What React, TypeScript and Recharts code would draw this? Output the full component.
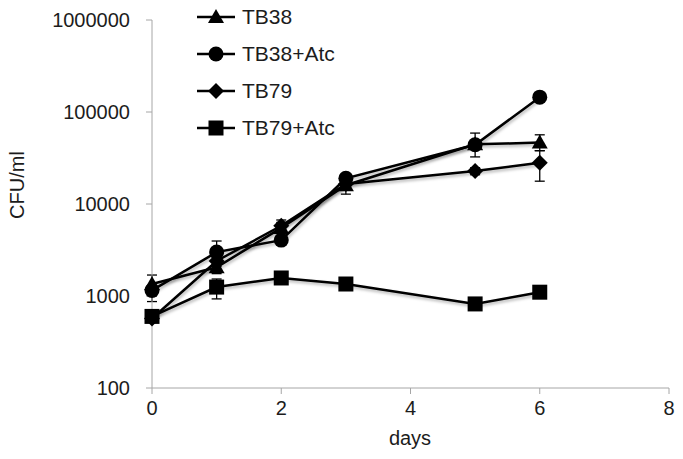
import { LineChart, Line, XAxis, YAxis, ErrorBar } from 'recharts'

const days = [0, 1, 2, 3, 5, 6]
const tb38 = [1350, 2050, 5500, 16000, 44500, 46500]
const tb38Atc = [1150, 3000, 4050, 19000, 44000, 145000]
const tb79 = [570, 2400, 5800, 16500, 22800, 28000]
const tb79Atc = [600, 1250, 1570, 1350, 820, 1100]

// [minus, plus]
const tb38Err = [[480, 340], [300, 300], [600, 1200], [3200, 3000], [12000, 14500], [8500, 10000]]
const tb38AtcErr = [[150, 150], [800, 960], [400, 400], [1500, 1500], [3000, 3000], [5000, 5000]]
const tb79Err = [[50, 50], [300, 300], [500, 500], [1500, 1500], [2000, 2000], [10300, 10000]]
const tb79AtcErr = [[60, 60], [320, 280], [150, 150], [100, 100], [80, 80], [100, 100]]

const xTicks = [0, 2, 4, 6, 8]
const yTicks = [100, 1000, 10000, 100000, 1000000]

const series = [
  { key: 'tb38', name: 'TB38', shape: 'triangle' },
  { key: 'tb38Atc', name: 'TB38+Atc', shape: 'circle' },
  { key: 'tb79', name: 'TB79', shape: 'diamond' },
  { key: 'tb79Atc', name: 'TB79+Atc', shape: 'square' },
]

const data = days.map((d, i) => ({
  day: d,
  tb38: tb38[i],
  tb38Atc: tb38Atc[i],
  tb79: tb79[i],
  tb79Atc: tb79Atc[i],
  tb38Err: tb38Err[i],
  tb38AtcErr: tb38AtcErr[i],
  tb79Err: tb79Err[i],
  tb79AtcErr: tb79AtcErr[i],
}))

const FONT = 'Liberation Sans, Arial, sans-serif'
const TEXT = '#1c1c1c'
const AXIS = '#a6a6a6'

function Marker({ shape, cx, cy }: { shape: string; cx: number; cy: number }) {
  if (shape === 'circle') return <circle cx={cx} cy={cy} r={7.5} fill="#000" />
  if (shape === 'square') return <rect x={cx - 7.5} y={cy - 7.5} width={15} height={15} fill="#000" />
  if (shape === 'diamond')
    return <polygon points={`${cx},${cy - 8} ${cx + 8},${cy} ${cx},${cy + 8} ${cx - 8},${cy}`} fill="#000" />
  return <polygon points={`${cx},${cy - 8} ${cx + 8},${cy + 6} ${cx - 8},${cy + 6}`} fill="#000" />
}

function makeDot(shape: string) {
  return (p: any) => <Marker key={`${shape}-${p.index}`} shape={shape} cx={p.cx} cy={p.cy} />
}

// legend sits over the plot, like the original
function LegendBox() {
  return (
    <div style={{ position: 'absolute', left: 195, top: -2, fontFamily: FONT, fontSize: 21, color: TEXT }}>
      {series.map((s) => (
        <div key={s.key} style={{ display: 'flex', alignItems: 'center', height: 37 }}>
          <svg width={42} height={20} style={{ marginRight: 5 }}>
            <line x1={2} y1={10} x2={40} y2={10} stroke="#000" strokeWidth={2.5} />
            <Marker shape={s.shape} cx={21} cy={10} />
          </svg>
          <span>{s.name}</span>
        </div>
      ))}
    </div>
  )
}

export default function App() {
  return (
    <div style={{ position: 'absolute', left: 0, top: 0, width: 683, height: 459, background: '#fff' }}>
      <style>{`.recharts-line { filter: drop-shadow(1px 2px 1.5px rgba(0,0,0,0.3)); }`}</style>
      <LineChart width={683} height={459} data={data} margin={{ top: 20, right: 14, left: 0, bottom: 21 }}>
        <XAxis
          dataKey="day"
          type="number"
          domain={[0, 8]}
          ticks={xTicks}
          height={50}
          tickSize={6}
          tickMargin={7}
          stroke={AXIS}
          tick={{ fill: TEXT, fontSize: 20, fontFamily: FONT }}
          label={{
            content: () => (
              <text x={410} y={445} textAnchor="middle" fill={TEXT} fontSize={20} fontFamily={FONT}>
                days
              </text>
            ),
          }}
        />
        <YAxis
          scale="log"
          domain={[100, 1000000]}
          ticks={yTicks}
          allowDataOverflow
          width={152}
          tickSize={6}
          tickMargin={16}
          stroke={AXIS}
          tick={{ fill: TEXT, fontSize: 20, fontFamily: FONT }}
          label={{
            content: () => (
              <text
                x={24}
                y={185}
                transform="rotate(-90 24 185)"
                textAnchor="middle"
                fill={TEXT}
                fontSize={20}
                fontFamily={FONT}
              >
                CFU/ml
              </text>
            ),
          }}
        />
        {series.map((s) => (
          <Line
            key={s.key}
            dataKey={s.key}
            name={s.name}
            stroke="#000"
            strokeWidth={2.5}
            dot={makeDot(s.shape)}
            activeDot={false}
            isAnimationActive={false}
          >
            <ErrorBar dataKey={`${s.key}Err`} direction="y" width={5} stroke="#000" strokeWidth={1.3} />
          </Line>
        ))}
      </LineChart>
      <LegendBox />
    </div>
  )
}
